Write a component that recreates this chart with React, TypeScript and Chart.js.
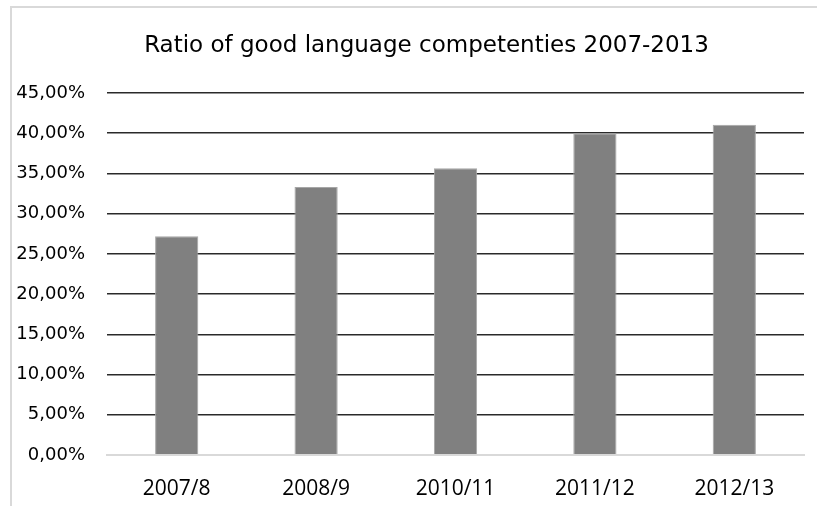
import React, { useEffect, useRef } from "react";
import { Chart, registerables } from "chart.js";

Chart.register(...registerables);

const TITLE = "Ratio of good language competenties 2007-2013";
const categories = ["2007/8", "2008/9", "2010/11", "2011/12", "2012/13"];
const ratios = [27.2, 33.3, 35.65, 40.0, 41.05];
const yMin = 0;
const yMax = 45;
const yStep = 5;

const titlePlugin = {
  id: "customTitle",
  afterDraw(chart: any) {
    const ctx = chart.ctx;
    ctx.save();
    ctx.font = "23px 'DejaVu Sans'";
    ctx.fillStyle = "#000";
    ctx.textAlign = "center";
    ctx.textBaseline = "alphabetic";
    ctx.fillText(TITLE, chart.width / 2 + 18, 52);
    ctx.restore();
  },
};

export default function App() {
  const ref = useRef<HTMLCanvasElement | null>(null);
  useEffect(() => {
    if (!ref.current) return;
    const chart = new Chart(ref.current, {
      type: "bar",
      data: {
        labels: categories,
        datasets: [
          {
            data: ratios,
            backgroundColor: "#808080",
            borderColor: "#a6a6a6",
            borderWidth: 1,
            barPercentage: 0.31,
            categoryPercentage: 1,
          },
        ],
      },
      options: {
        responsive: false,
        animation: false,
        layout: { padding: { left: 0, right: 13, top: 93, bottom: 0 } },
        plugins: {
          legend: { display: false },
          title: { display: false },
          tooltip: { enabled: false },
        },
        scales: {
          x: {
            grid: { display: false },
            border: { display: true, color: "#d9d9d9", width: 2 },
            ticks: {
              color: "#000",
              font: { family: "'Open Sans'", size: 21 },
              padding: 13,
              maxRotation: 0,
            },
            afterFit(scale: any) {
              scale.height = 51;
            },
          },
          y: {
            min: yMin,
            max: yMax,
            border: { display: false },
            grid: {
              drawTicks: false,
              color: (c: any) => (c.tick && c.tick.value === 0 ? "#d9d9d9" : "#2a2a2a"),
              lineWidth: (c: any) => (c.tick && c.tick.value === 0 ? 2 : 1.6),
            },
            ticks: {
              stepSize: yStep,
              color: "#000",
              padding: 22,
              font: { family: "'DejaVu Sans'", size: 18 },
              callback: (v: any) => Number(v).toFixed(2).replace(".", ",") + "%",
            },
            afterFit(scale: any) {
              scale.width = 107;
            },
          },
        },
      },
      plugins: [titlePlugin],
    });
    return () => chart.destroy();
  }, []);

  return (
    <div style={{ position: "fixed", left: 0, top: 0, width: 817, height: 506, background: "#fff", overflow: "hidden" }}>
      <div
        style={{
          position: "absolute",
          left: 10,
          top: 6,
          width: 900,
          height: 600,
          borderTop: "2px solid #d9d9d9",
          borderLeft: "2px solid #d9d9d9",
        }}
      />
      <canvas ref={ref} width={817} height={506} style={{ position: "absolute", left: 0, top: 0 }} />
    </div>
  );
}
